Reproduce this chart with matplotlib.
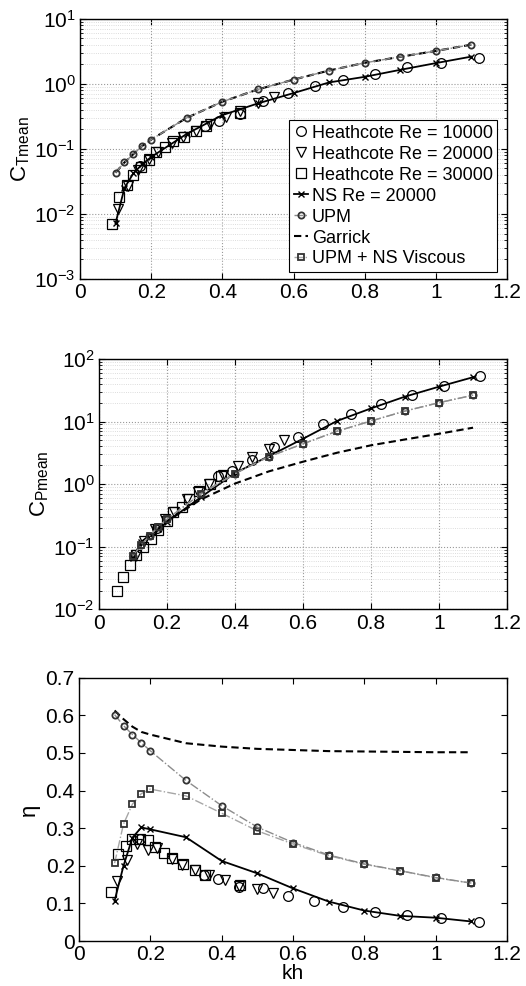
import matplotlib
matplotlib.use("Agg")
import matplotlib.pyplot as plt
from matplotlib.ticker import FixedLocator, FuncFormatter, LogLocator, NullFormatter

plt.rcParams['font.family'] = ['Liberation Sans', 'DejaVu Sans']
plt.rcParams['mathtext.fontset'] = 'custom'
plt.rcParams['mathtext.rm'] = 'Liberation Sans'
plt.rcParams['mathtext.it'] = 'Liberation Sans:italic'
plt.rcParams['mathtext.default'] = 'regular'

# ---------------- data ----------------
kh_model = [0.1, 0.125, 0.15, 0.175, 0.2, 0.3, 0.4, 0.5, 0.6, 0.7, 0.8, 0.9, 1.0, 1.1]

ct_ns = [0.0072, 0.025, 0.042, 0.058, 0.075, 0.17, 0.33, 0.50, 0.72, 1.05, 1.28, 1.64, 2.08, 2.62]
ct_upm = [0.043, 0.062, 0.083, 0.111, 0.139, 0.30, 0.53, 0.82, 1.16, 1.6, 2.1, 2.6, 3.2, 4.0]
ct_garrick = [0.043, 0.062, 0.083, 0.111, 0.139, 0.30, 0.53, 0.82, 1.16, 1.6, 2.1, 2.6, 3.2, 4.0]

cp_ns = [0.067, 0.12, 0.155, 0.19, 0.25, 0.62, 1.5, 2.8, 5.3, 10.2, 16.2, 25, 36, 51]
cp_upm = [0.071, 0.108, 0.151, 0.21, 0.275, 0.70, 1.47, 2.75, 4.4, 7.0, 10.2, 14.7, 20, 26.3]
cp_garrick = [0.07, 0.106, 0.147, 0.20, 0.255, 0.57, 1.02, 1.6, 2.28, 3.17, 4.17, 5.17, 6.37, 7.97]
cp_upm_ns = [0.071, 0.108, 0.151, 0.21, 0.275, 0.70, 1.47, 2.75, 4.4, 7.0, 10.2, 14.7, 20, 26.3]

eta_ns = [0.107, 0.20, 0.275, 0.302, 0.297, 0.276, 0.213, 0.180, 0.140, 0.105, 0.081, 0.067, 0.062, 0.052]
eta_upm = [0.602, 0.573, 0.549, 0.527, 0.506, 0.427, 0.360, 0.303, 0.262, 0.229, 0.205, 0.187, 0.169, 0.154]
eta_garrick = [0.613, 0.590, 0.570, 0.556, 0.549, 0.526, 0.517, 0.511, 0.508, 0.505, 0.504, 0.503, 0.502, 0.502]
eta_upm_ns = [0.207, 0.311, 0.364, 0.392, 0.404, 0.386, 0.340, 0.293, 0.258, 0.227, 0.204, 0.187, 0.168, 0.154]

# Heathcote Re = 10000
kh_h10 = [0.17, 0.35, 0.39, 0.45, 0.515, 0.585, 0.66, 0.74, 0.83, 0.92, 1.015, 1.12]
ct_h10 = [0.055, 0.225, 0.27, 0.34, 0.55, 0.72, 0.94, 1.15, 1.43, 1.81, 2.08, 2.48]
cp_h10 = [0.2, 1.34, 1.64, 2.4, 3.97, 5.74, 9.1, 13.1, 19.2, 26.8, 36.4, 52.7]
eta_h10 = [0.272, 0.176, 0.165, 0.145, 0.140, 0.120, 0.107, 0.090, 0.078, 0.068, 0.062, 0.050]

# Heathcote Re = 20000
kh_h20 = [0.108, 0.134, 0.164, 0.194, 0.22, 0.26, 0.29, 0.325, 0.365, 0.41, 0.45, 0.50, 0.545]
ct_h20 = [0.012, 0.027, 0.048, 0.07, 0.09, 0.125, 0.15, 0.19, 0.24, 0.31, 0.38, 0.5, 0.62]
cp_h20 = [0.075, 0.125, 0.19, 0.28, 0.36, 0.57, 0.75, 1.0, 1.38, 1.97, 2.68, 3.6, 5.1]
eta_h20 = [0.160, 0.216, 0.257, 0.242, 0.248, 0.218, 0.203, 0.188, 0.175, 0.162, 0.146, 0.138, 0.128]

# Heathcote Re = 30000
kh_h30 = [0.09, 0.11, 0.131, 0.148, 0.171, 0.193, 0.213, 0.239, 0.262, 0.292, 0.325, 0.353, 0.451]
ct_h30 = [0.0069, 0.018, 0.028, 0.040, 0.053, 0.068, 0.088, 0.106, 0.13, 0.152, 0.19, 0.226, 0.35]
eta_h30 = [0.131, 0.231, 0.254, 0.271, 0.271, 0.269, 0.251, 0.235, 0.220, 0.206, 0.188, 0.176, 0.148]
kh_h30_cp = [0.053, 0.071, 0.09, 0.108, 0.131, 0.153, 0.173, 0.199, 0.219, 0.243, 0.265, 0.294, 0.326, 0.358]
cp_h30 = [0.0197, 0.033, 0.052, 0.075, 0.10, 0.133, 0.185, 0.26, 0.355, 0.43, 0.58, 0.77, 1.01, 1.33]

labels = ['Heathcote Re = 10000', 'Heathcote Re = 20000', 'Heathcote Re = 30000',
          'NS Re = 20000', 'UPM', 'Garrick', 'UPM + NS Viscous']
x_ticks = [0, 0.2, 0.4, 0.6, 0.8, 1, 1.2]
eta_ticks = [0, 0.1, 0.2, 0.3, 0.4, 0.5, 0.6, 0.7]

# ---------------- styles ----------------
big = dict(ls='none', mfc='none', mec='black', mew=0.9)
st_h10 = dict(marker='o', ms=7, **big)
st_h20 = dict(marker='v', ms=7, **big)
st_h30 = dict(marker='s', ms=6.5, **big)
st_ns = dict(color='black', ls='-', lw=1.3, marker='x', ms=4, mew=1.0)
st_upm = dict(color='0.55', ls='-.', lw=1.0, marker='o', ms=4.5, mfc='none', mec='0.2', mew=1.3)
st_gar = dict(color='black', ls=(0, (3.5, 2)), lw=1.5)
st_upmns = dict(color='0.65', ls='-.', lw=1.0, marker='s', ms=4.5, mfc='none', mec='0.2', mew=1.3)

fig = plt.figure(figsize=(5.26, 9.86), dpi=100)
ax1 = fig.add_axes([0.152, 0.717, 0.812, 0.264])
ax2 = fig.add_axes([0.188, 0.382, 0.776, 0.254])
ax3 = fig.add_axes([0.150, 0.0456, 0.814, 0.267])

fmt_x = FuncFormatter(lambda v, p: f'{v:g}')


def style(ax, log):
    ax.set_xlim(0, 1.2)
    ax.xaxis.set_major_locator(FixedLocator(x_ticks))
    ax.xaxis.set_major_formatter(fmt_x)
    ax.tick_params(which='both', direction='in', top=True, right=True,
                   labelsize=15, pad=3)
    ax.tick_params(which='major', length=4, width=0.8)
    ax.tick_params(which='minor', length=2, width=0.6)
    for s in ax.spines.values():
        s.set_linewidth(1.0)
    if log:
        ax.set_yscale('log')
        ax.yaxis.set_minor_locator(LogLocator(base=10, subs=range(2, 10)))
        ax.yaxis.set_minor_formatter(NullFormatter())
        ax.grid(True, which='major', ls=':', color='0.6', lw=0.8)
        ax.grid(True, which='minor', axis='y', ls=':', color='0.82', lw=0.6)
        ax.set_axisbelow(True)


# ---- bottom: efficiency (drawn first to provide legend handles) ----
style(ax3, False)
ax3.set_ylim(0, 0.7)
ax3.yaxis.set_major_locator(FixedLocator(eta_ticks))
ax3.yaxis.set_major_formatter(fmt_x)
h1, = ax3.plot(kh_h10, eta_h10, **st_h10)
h2, = ax3.plot(kh_h20, eta_h20, **st_h20)
h3, = ax3.plot(kh_h30, eta_h30, **st_h30)
h4, = ax3.plot(kh_model, eta_ns, **st_ns)
h7, = ax3.plot(kh_model, eta_upm_ns, **st_upmns)
h6, = ax3.plot(kh_model, eta_garrick, **st_gar)
h5, = ax3.plot(kh_model, eta_upm, **st_upm)
ax3.set_ylabel('η', fontsize=16, labelpad=4)
ax3.set_xlabel('kh', fontsize=15, labelpad=0)

# ---- top: thrust ----
style(ax1, True)
ax1.set_ylim(1e-3, 1e1)
ax1.plot(kh_h10, ct_h10, **st_h10)
ax1.plot(kh_h20, ct_h20, **st_h20)
ax1.plot(kh_h30, ct_h30, **st_h30)
ax1.plot(kh_model, ct_ns, **st_ns)
ax1.plot(kh_model, ct_garrick, **st_gar)
ax1.plot(kh_model, ct_upm, **st_upm)
ax1.set_ylabel(r'C$_{\mathrm{Tmean}}$', fontsize=16, labelpad=2)
leg = ax1.legend([h1, h2, h3, h4, h5, h6, h7], labels, loc='lower right',
                 bbox_to_anchor=(0.977, 0.027), borderaxespad=0, fontsize=13,
                 handlelength=0.8, handletextpad=0.2, labelspacing=0.22,
                 borderpad=0.25, fancybox=False, framealpha=1, edgecolor='black')
leg.get_frame().set_linewidth(0.8)

# ---- middle: power ----
style(ax2, True)
ax2.set_ylim(1e-2, 1e2)
ax2.plot(kh_h10, cp_h10, **st_h10)
ax2.plot(kh_h20, cp_h20, **st_h20)
ax2.plot(kh_h30_cp, cp_h30, **st_h30)
ax2.plot(kh_model, cp_ns, **st_ns)
ax2.plot(kh_model, cp_upm_ns, **st_upmns)
ax2.plot(kh_model, cp_garrick, **st_gar)
ax2.plot(kh_model, cp_upm, **st_upm)
ax2.set_ylabel(r'C$_{\mathrm{Pmean}}$', fontsize=16, labelpad=2)

fig.savefig('out.png', dpi=100)
